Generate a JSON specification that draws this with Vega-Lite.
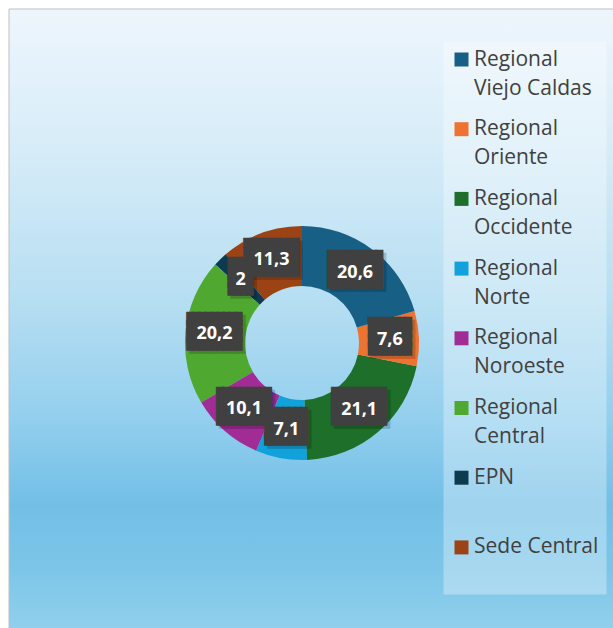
{
  "$schema": "https://vega.github.io/schema/vega-lite/v6.json",
  "width": 605,
  "height": 620,
  "autosize": "none",
  "padding": {"left": 9, "top": 9, "right": 0, "bottom": 0},
  "background": "#ffffff",
  "config": {
    "locale": {"number": {"decimal": ",", "thousands": ".", "grouping": [3], "currency": ["", ""]}},
    "style": {"guide-label": {"lineHeight": 29}},
    "view": {"stroke": null}
  },
  "data": {
    "values": [
      {"name": "Sede Central", "value": 11.3, "orden": 8},
      {"name": "EPN", "value": 2, "orden": 7},
      {"name": "Regional Central", "value": 20.2, "orden": 6},
      {"name": "Regional Noroeste", "value": 10.1, "orden": 5},
      {"name": "Regional Norte", "value": 7.1, "orden": 4},
      {"name": "Regional Occidente", "value": 21.1, "orden": 3},
      {"name": "Regional Oriente", "value": 7.6, "orden": 2},
      {"name": "Regional Viejo Caldas", "value": 20.6, "orden": 1}
    ]
  },
  "layer": [
    {
      "data": {"values": [{}]},
      "mark": {
        "type": "rect",
        "stroke": "#bfbfbf",
        "strokeWidth": 1,
        "fill": {
          "gradient": "linear", "x1": 0, "y1": 0, "x2": 0, "y2": 1,
          "stops": [
            {"offset": 0, "color": "#eef6fd"},
            {"offset": 0.23, "color": "#d6ecf8"},
            {"offset": 0.47, "color": "#b6def2"},
            {"offset": 0.66, "color": "#93cfee"},
            {"offset": 0.8, "color": "#72bfe6"},
            {"offset": 0.9, "color": "#7cc5e8"},
            {"offset": 1, "color": "#90d0ec"}
          ]
        }
      },
      "encoding": {}
    },
    {
      "mark": {"type": "arc", "innerRadius": 57, "outerRadius": 117, "x": 293, "y": 334},
      "encoding": {
        "theta": {"field": "value", "type": "quantitative", "stack": true},
        "order": {"field": "orden", "type": "quantitative"},
        "color": {
          "field": "name",
          "type": "nominal",
          "scale": {
            "domain": ["Regional Viejo Caldas", "Regional Oriente", "Regional Occidente", "Regional Norte", "Regional Noroeste", "Regional Central", "EPN", "Sede Central"],
            "range": ["#175f85", "#ee7230", "#1d6f29", "#12a2db", "#a22c95", "#4fa82f", "#0e3a50", "#9c4315"]
          },
          "legend": {
            "title": null,
            "orient": "none",
            "legendX": 434.5,
            "legendY": 32.5,
            "padding": 7.5,
            "fillColor": "rgba(255,255,255,0.32)",
            "symbolType": "square",
            "symbolSize": 196,
            "symbolStrokeWidth": 0,
            "symbolOpacity": 1,
            "labelFont": "Open Sans",
            "labelFontSize": 21,
            "labelColor": "#404040",
            "labelOffset": 2,
            "labelLimit": 200,
            "rowPadding": 18.7,
            "labelExpr": "indexof(datum.label, 'Regional ') == 0 ? ['Regional', substring(datum.label, 9)] : [datum.label, ' ']"
          }
        }
      }
    },
    {
      "mark": {
        "type": "text", "radius": 88, "x": 293, "y": 334, "dx": 3, "dy": -12.5,
        "font": "DejaVu Sans Mono", "fontSize": 10, "lineHeight": 8.3,
        "color": "#000000", "opacity": 0.18, "stroke": "#000000", "strokeWidth": 2,
        "baseline": "middle", "align": "center",
        "text": {"expr": "datum.value >= 10 ? ['█████████','█████████','█████████','█████████'] : (datum.value % 1 != 0 ? ['███████','███████','███████','███████'] : ['████','████','████','████'])"}
      },
      "encoding": {
        "theta": {"field": "value", "type": "quantitative", "stack": true},
        "order": {"field": "orden", "type": "quantitative"},
        "detail": {"field": "name", "type": "nominal"}
      }
    },
    {
      "mark": {
        "type": "text", "radius": 88, "x": 293, "y": 334, "dy": -15.5,
        "font": "DejaVu Sans Mono", "fontSize": 10, "lineHeight": 8.3,
        "color": "#404040", "stroke": "#404040", "strokeWidth": 2,
        "baseline": "middle", "align": "center",
        "text": {"expr": "datum.value >= 10 ? ['█████████','█████████','█████████','█████████'] : (datum.value % 1 != 0 ? ['███████','███████','███████','███████'] : ['████','████','████','████'])"}
      },
      "encoding": {
        "theta": {"field": "value", "type": "quantitative", "stack": true},
        "order": {"field": "orden", "type": "quantitative"},
        "detail": {"field": "name", "type": "nominal"}
      }
    },
    {
      "mark": {
        "type": "text", "radius": 88, "x": 293, "y": 334,
        "font": "Open Sans", "fontSize": 18, "fontWeight": "bold",
        "color": "#ffffff", "baseline": "middle", "align": "center"
      },
      "encoding": {
        "theta": {"field": "value", "type": "quantitative", "stack": true},
        "order": {"field": "orden", "type": "quantitative"},
        "detail": {"field": "name", "type": "nominal"},
        "text": {"field": "value", "type": "quantitative", "format": ".1~f"}
      }
    }
  ]
}
